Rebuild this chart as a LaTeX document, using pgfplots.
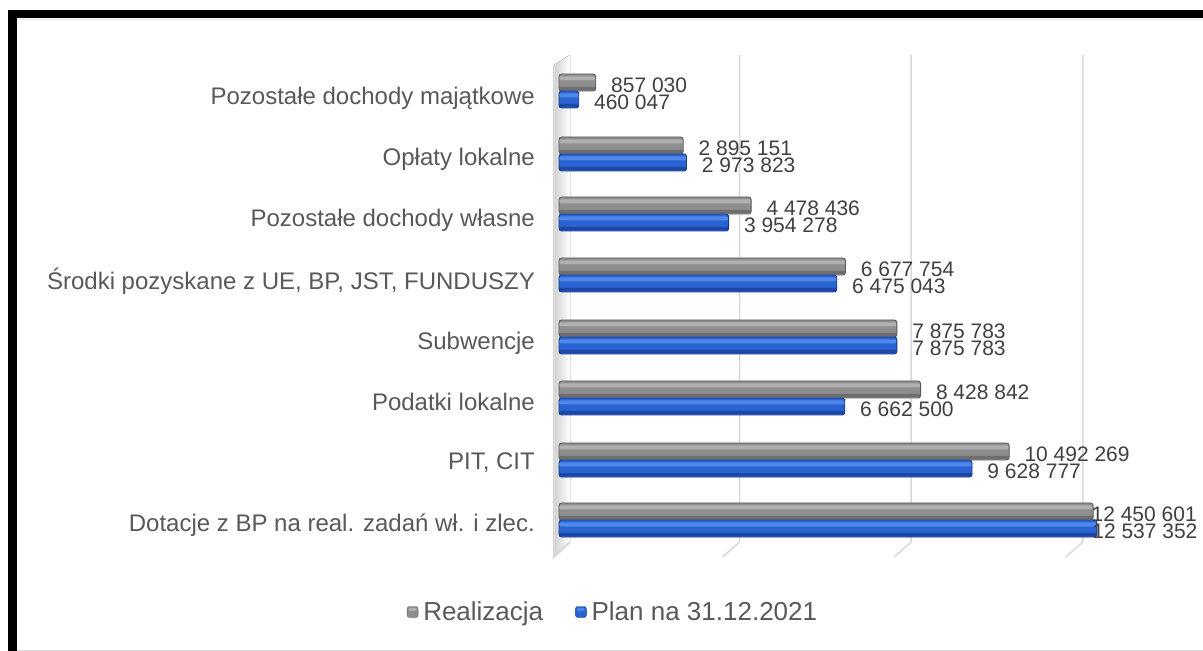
\documentclass[border=0pt]{standalone}
\usepackage{pgfplots}
\usepackage{pgfplotstable}
\pgfplotsset{compat=1.18}
\usepackage{fontspec}
\setmainfont{Liberation Sans}
\definecolor{txt}{HTML}{595959}
\definecolor{valtxt}{HTML}{404040}
\definecolor{gridc}{HTML}{D9D9D9}
\definecolor{gA}{HTML}{B0B0B0}
\definecolor{gB}{HTML}{8E8E8E}
\definecolor{gC}{HTML}{6E6E6E}
\definecolor{gD}{HTML}{5A5A5A}
\definecolor{bA}{HTML}{5088EA}
\definecolor{bB}{HTML}{2A63D2}
\definecolor{bC}{HTML}{1D47A5}
\definecolor{bD}{HTML}{183A85}
% y = vertical position (bp), real = Realizacja, plan = Plan na 31.12.2021
\pgfplotstableread{
y   real      plan     rl          pl
560 857030    460047   857~030     460~047
497 2895151   2973823  2~895~151   2~973~823
437 4478436   3954278  4~478~436   3~954~278
376 6677754   6475043  6~677~754   6~475~043
314 7875783   7875783  7~875~783   7~875~783
253 8428842   6662500  8~428~842   6~662~500
191 10492269  9628777  10~492~269  9~628~777
}\data
\pgfplotstableread{
y   real      plan     rl          pl
131 12450601  12537352 12~450~601  12~537~352
}\datab
\begin{document}
\begin{tikzpicture}
\useasboundingbox (0,0) rectangle (1203bp,651bp);
\fill[white] (0,0) rectangle (1203bp,651bp);
% frame
\fill[black] (8bp,633bp) rectangle (1203bp,641bp);
\fill[black] (8bp,0bp) rectangle (17bp,641bp);
\draw[gridc, line width=1bp] (17bp,1bp) -- (1203bp,1bp);
\draw[gridc!60, line width=0.8bp] (17bp,632bp) -- (1203bp,632bp);
\begin{axis}[
  at={(559bp,90bp)}, anchor=south west,
  scale only axis, width=600.6bp, height=510bp,
  xmin=0, xmax=14000000, ymin=90, ymax=600,
  enlargelimits=false, clip=false,
  axis line style={draw=none},
  xtick=\empty,
  ytick={553,492,431,370,308,249,188,126},
  yticklabels={Pozostałe dochody majątkowe, Opłaty lokalne, Pozostałe dochody własne, {Środki pozyskane z UE, BP, JST, FUNDUSZY}, Subwencje, Podatki lokalne, {PIT, CIT}, Dotacje z BP na real. zadań wł. i zlec.},
  tick style={draw=none}, major tick length=0pt,
  yticklabel style={anchor=east, inner sep=0pt, xshift=-24bp, text=txt, font=\fontsize{24bp}{28bp}\selectfont},
  xbar,
  lbl/.style={point meta=explicit symbolic, nodes near coords={\pgfplotspointmeta},
    every node near coord/.append style={anchor=west, inner sep=0pt, xshift=15bp, yshift=-3bp, text=valtxt, font=\fontsize{21bp}{24bp}\selectfont}},
  lblE/.style 2 args={point meta=explicit symbolic, nodes near coords={\pgfplotspointmeta},
    every node near coord/.append style={anchor=east, inner sep=0pt, xshift=#1, yshift=-3bp, text=valtxt, font=\fontsize{21bp}{24bp}\selectfont}},
  gbase/.style={fill=gB, draw=none, bar shift=8.5bp, bar width=17bp, rounded corners=2.5bp},
  ghi/.style={forget plot, fill=gA, draw=none, bar shift=12.5bp, bar width=4bp, rounded corners=1.5bp},
  glo/.style={forget plot, fill=gC, draw=none, bar shift=2.5bp, bar width=3bp, rounded corners=1bp},
  gout/.style={forget plot, fill=none, draw=gD, line width=0.8bp, bar shift=8.5bp, bar width=17bp, rounded corners=2.5bp},
  bbase/.style={fill=bB, draw=none, bar shift=-8.5bp, bar width=17bp, rounded corners=2.5bp},
  bhi/.style={forget plot, fill=bA, draw=none, bar shift=-4.5bp, bar width=4bp, rounded corners=1.5bp},
  blo/.style={forget plot, fill=bC, draw=none, bar shift=-14.5bp, bar width=3bp, rounded corners=1bp},
  bout/.style={forget plot, fill=none, draw=bD, line width=0.8bp, bar shift=-8.5bp, bar width=17bp, rounded corners=2.5bp},
  legend columns=2,
  legend style={at={(0.0924,-0.1)}, anchor=center, draw=none, fill=none,
    font=\fontsize{26bp}{30bp}\selectfont, text=txt,
    /tikz/every even column/.append style={column sep=27bp},
    nodes={inner sep=5bp}},
]
% back wall and grid
\fill[left color=gray!35, right color=white] ([xshift=-5bp]axis cs:0,586) -- ([xshift=11bp]axis cs:0,596) -- ([xshift=11bp]axis cs:0,109) -- ([xshift=-5bp]axis cs:0,94) -- cycle;
\draw[gridc, line width=2bp] ([xshift=-5bp]axis cs:0,586) -- ([xshift=-5bp]axis cs:0,94) -- ([xshift=11bp]axis cs:0,109);
\draw[gridc, line width=1.5bp] ([xshift=9bp]axis cs:4000000,596) -- ([xshift=9bp]axis cs:4000000,109) -- ([xshift=-8bp]axis cs:4000000,94);
\draw[gridc, line width=1.5bp] ([xshift=9bp]axis cs:8000000,596) -- ([xshift=9bp]axis cs:8000000,109) -- ([xshift=-8bp]axis cs:8000000,94);
\draw[gridc, line width=1.5bp] ([xshift=9bp]axis cs:12000000,596) -- ([xshift=9bp]axis cs:12000000,109) -- ([xshift=-8bp]axis cs:12000000,94);
% Realizacja
\addplot[gbase, legend image code/.code={\draw[gD, fill=gB] (0bp,-5.5bp) rectangle (11bp,5.5bp); \fill[gA] (1.5bp,1bp) rectangle (9.5bp,4bp);}] table[x=real, y=y]{\data};
\addplot[ghi] table[x=real, y=y]{\data};
\addplot[glo] table[x=real, y=y]{\data};
\addplot[gout, lbl] table[x=real, y=y, meta=rl]{\data};
% Plan
\addplot[bbase, legend image code/.code={\draw[bD, fill=bB] (0bp,-5.5bp) rectangle (11bp,5.5bp); \fill[bA] (1.5bp,1bp) rectangle (9.5bp,4bp);}] table[x=plan, y=y]{\data};
\addplot[bhi] table[x=plan, y=y]{\data};
\addplot[blo] table[x=plan, y=y]{\data};
\addplot[bout, lbl] table[x=plan, y=y, meta=pl]{\data};
% Dotacje (labels pushed inside the frame)
\addplot[gbase, forget plot] table[x=real, y=y]{\datab};
\addplot[ghi] table[x=real, y=y]{\datab};
\addplot[glo] table[x=real, y=y]{\datab};
\addplot[gout, lblE={104bp}{}] table[x=real, y=y, meta=rl]{\datab};
\addplot[bbase, forget plot] table[x=plan, y=y]{\datab};
\addplot[bhi] table[x=plan, y=y]{\datab};
\addplot[blo] table[x=plan, y=y]{\datab};
\addplot[bout, lblE={101bp}{}] table[x=plan, y=y, meta=pl]{\datab};
\legend{Realizacja, Plan na 31.12.2021}
\end{axis}
\end{tikzpicture}
\end{document}
